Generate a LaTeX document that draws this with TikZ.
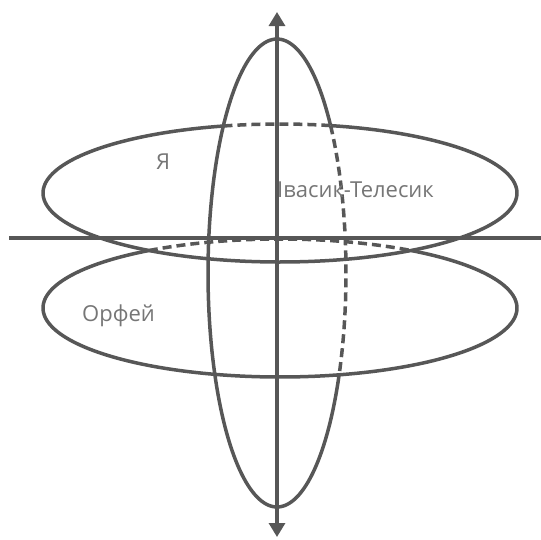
\documentclass[tikz,border=0pt]{standalone}
\usepackage{fontspec}
\setmainfont{Open Sans}
\usetikzlibrary{arrows.meta}
\definecolor{linegray}{HTML}{575757}
\definecolor{textgray}{HTML}{767676}
\begin{document}
\begin{tikzpicture}[x=1pt,y=-1pt,
  curve/.style={draw=linegray, line width=3.5pt},
  hidden/.style={curve, dash pattern=on 9pt off 5pt},
  axisline/.style={draw=linegray, line width=3.2pt},
  lbl/.style={text=textgray, inner sep=0pt, font=\fontsize{22}{26}\selectfont}]
\useasboundingbox (0,0) rectangle (541,539);
% vertical ellipse: centre (277,273), rx 69, ry 234
\draw[curve] plot[domain=25.8:320.9, samples=150] ({277+69*cos(\x)},{273+234*sin(\x)});
\draw[hidden] plot[domain=-39.1:25.8, samples=60] ({277+69*cos(\x)},{273+234*sin(\x)});
% upper ellipse: centre (280,193), rx 237, ry 69
\draw[curve] plot[domain=-77.6:256.2, samples=180] ({280+237*cos(\x)},{193+69*sin(\x)});
\draw[hidden] plot[domain=256.2:282.4, samples=30] ({280+237*cos(\x)},{193+69*sin(\x)});
% lower ellipse: centre (280,308), rx 237, ry 69
\draw[curve] plot[domain=-56.4:236.4, samples=180] ({280+237*cos(\x)},{308+69*sin(\x)});
\draw[hidden] plot[domain=236.4:303.6, samples=40] ({280+237*cos(\x)},{308+69*sin(\x)});
% axes
\coordinate (hl) at (9,238);
\coordinate (hr) at (541,238);
\coordinate (vt) at (277,12);
\coordinate (vb) at (277,537);
\draw[axisline] (hl) -- (hr);
\draw[axisline, {Triangle[width=16pt,length=14pt]}-{Triangle[width=16pt,length=14pt]}] (vb) -- (vt);
% labels
\node[lbl] (ya) at (163,162) {Я};
\node[lbl, anchor=west] (ivasyk) at (277,190) {Івасик-Телесик};
\node[lbl, anchor=west] (orfei) at (82,316) {Орфей};
\end{tikzpicture}
\end{document}
